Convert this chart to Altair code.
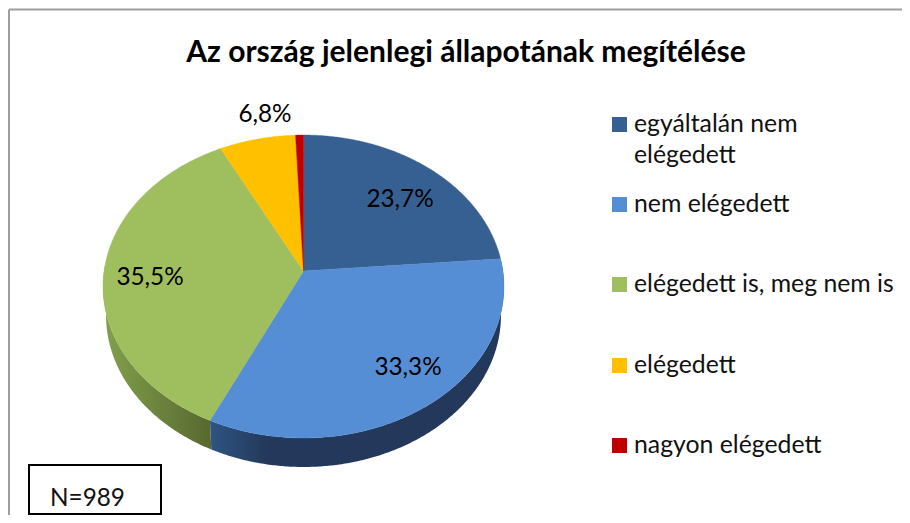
import math
import altair as alt
import pandas as pd

TITLE = "Az ország jelenlegi állapotának megítélése"
categories = ["egyáltalán nem\nelégedett", "nem elégedett", "elégedett is, meg nem is", "elégedett", "nagyon elégedett"]
shares = [23.7, 33.3, 35.5, 6.8, 0.7]
pct_labels = ["23,7%", "33,3%", "35,5%", "6,8%"]
note = "N=989"
colors = ["#366092", "#558ED5", "#9FBE5E", "#FFC000", "#C00000"]

FONT = "Lato"
CX, CY, K, A, B, DEPTH = 303.5, 271.0, 0.1023, 149.9, 199.4, 29.0
RIGHT, BOTTOM = 902, 515


def rim(theta_deg, depth=0.0):
    t = math.radians(theta_deg)
    u, v = math.sin(t), math.cos(t)
    d = 1 + K * v
    shrink = 1 - 0.015 * (depth > 0)
    return CX + shrink * B * u / d, CY - A * v / d + depth


def polygon(points):
    return pd.DataFrame({"px": [p[0] for p in points], "py": [p[1] for p in points], "i": range(len(points))})


X = alt.X("px:Q", axis=None, scale=alt.Scale(domain=[8, RIGHT], nice=False, zero=False))
Y = alt.Y("py:Q", axis=None, scale=alt.Scale(domain=[BOTTOM, 8], nice=False, zero=False))


def shape(points, fill, sw=0.0):
    kw = {"stroke": fill, "strokeWidth": sw} if sw else {"strokeWidth": 0}
    return alt.Chart(polygon(points)).mark_line(interpolate="linear-closed", fill=fill, **kw).encode(
        x=X, y=Y, order="i:Q"
    )


def sweep(a, b):
    n = max(2, int(abs(b - a)) * 2)
    return [a + (b - a) * j / n for j in range(n + 1)]


bounds = [0.0]
for s in shares:
    bounds.append(bounds[-1] + s * 3.6)
bounds[-1] = 360.0


def wall(a, b):
    top = [rim(t) for t in sweep(a, b)]
    bottom = [rim(t, DEPTH) for t in sweep(b, a)]
    return top + bottom


navy = alt.LinearGradient(gradient="linear", x1=0, x2=1, y1=0, y2=0, stops=[
    alt.GradientStop(offset=0, color="#2F5483"),
    alt.GradientStop(offset=0.2, color="#23385A"),
    alt.GradientStop(offset=1, color="#23385A"),
])
olive = alt.LinearGradient(gradient="linear", x1=0, x2=1, y1=0, y2=0, stops=[
    alt.GradientStop(offset=0, color="#82A04C"),
    alt.GradientStop(offset=1, color="#586830"),
])

layers = []
layers.append(shape(wall(bounds[2], 272), olive))
layers.append(shape(wall(bounds[1], bounds[2]), navy))
for i in range(len(shares)):
    pts = [(CX, CY)] + [rim(t) for t in sweep(bounds[i], bounds[i + 1])]
    layers.append(shape(pts, colors[i], 0.4))

# frame and note box
frame_top = pd.DataFrame({"px": [9], "px2": [RIGHT], "py": [9.5]})
frame_left = pd.DataFrame({"px": [9], "py": [9.5], "py2": [BOTTOM]})
layers.append(alt.Chart(frame_top).mark_rule(color="#9E9E9E", strokeWidth=2).encode(x=X, x2="px2:Q", y=Y))
layers.append(alt.Chart(frame_left).mark_rule(color="#9E9E9E", strokeWidth=2).encode(x=X, y=Y, y2="py2:Q"))
box = pd.DataFrame({"px": [29], "px2": [161], "py": [465], "py2": [514]})
layers.append(alt.Chart(box).mark_rect(fill="white", stroke="black", strokeWidth=2).encode(x=X, x2="px2:Q", y=Y, y2="py2:Q"))


def text(rows, **mark):
    df = pd.DataFrame(rows, columns=["px", "py", "t"])
    return alt.Chart(df).mark_text(font=FONT, baseline="alphabetic", **mark).encode(x=X, y=Y, text="t:N")


layers.append(text([(50, 506, note)], align="left", fontSize=24.3, color="#111111"))
layers.append(text([(466, 62, TITLE)], align="center", fontSize=30, fontWeight="bold", color="#000000"))
layers.append(text(
    list(zip([400, 408, 150, 265], [207, 375, 285, 122], pct_labels)),
    align="center", fontSize=24.3, color="#000000",
))

# legend
baselines = [132 + round(80.25 * i) for i in range(5)]
layers.append(alt.Chart(pd.DataFrame({
    "px": [619.5] * 5, "py": [b - 7.5 for b in baselines], "c": categories,
})).mark_square(size=225, opacity=1).encode(
    x=X, y=Y, color=alt.Color("c:N", scale=alt.Scale(domain=categories, range=colors), legend=None)
))
layers.append(text(
    list(zip([634] * 5, baselines, categories)),
    align="left", fontSize=24.8, color="#111111", lineBreak="\n", lineHeight=31,
))

chart = alt.layer(*layers).properties(
    width=RIGHT - 8, height=BOTTOM - 8, padding=0, autosize=alt.AutoSizeParams(type="none"), background="white"
).configure_view(stroke=None)

chart.save("out.html", embed_options={"renderer": "svg", "actions": False})
